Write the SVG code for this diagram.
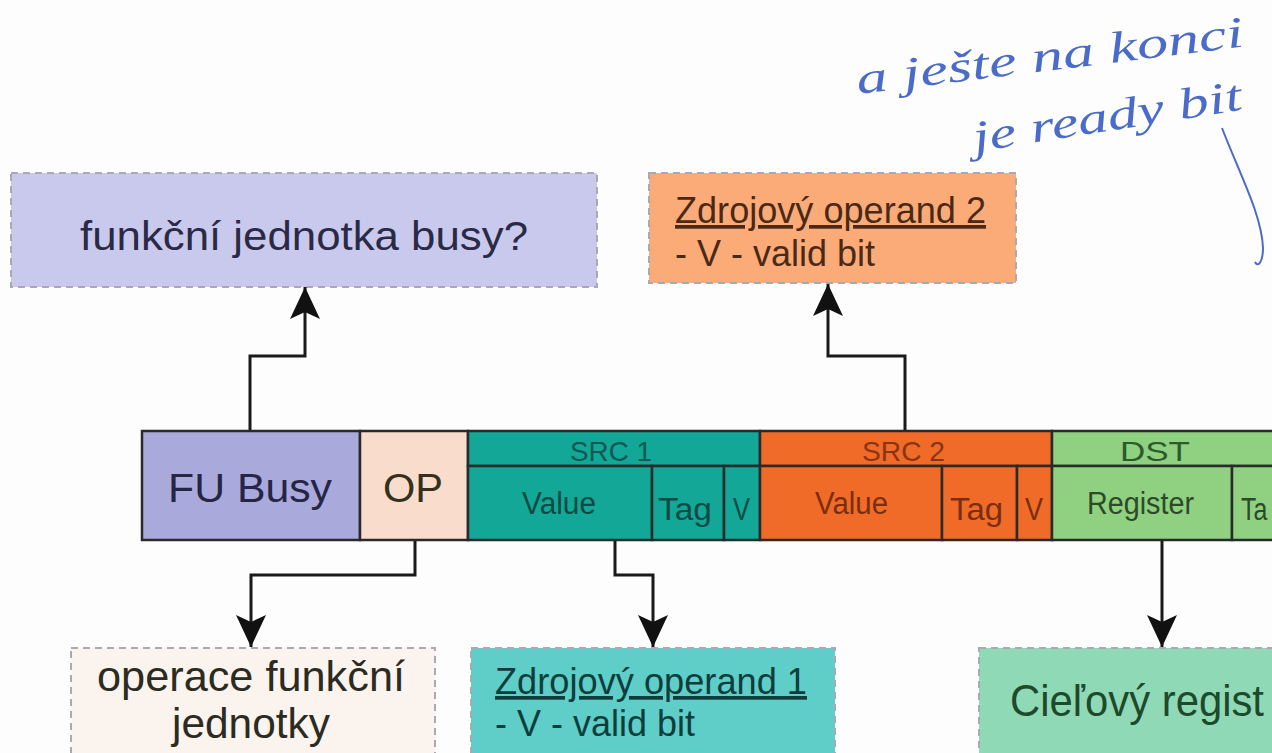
<svg xmlns="http://www.w3.org/2000/svg" width="1272" height="753" viewBox="0 0 1272 753">
  <defs>
    <!-- filled arrowhead with a shallow notch, pointing along +x -->
    <marker id="arrow" viewBox="0 0 32 30" refX="32" refY="15" markerWidth="32" markerHeight="30" markerUnits="userSpaceOnUse" orient="auto">
      <path d="M0 0 L32 15 L0 30 L7 15 Z" fill="#111"/>
    </marker>
    <style>
      text { font-family: "Liberation Sans", Arial, sans-serif; }
      .note { stroke: #a9a9b4; stroke-width: 2; stroke-dasharray: 7 5; }
      .cell { stroke: #2a2a2a; stroke-width: 2.5; }
      .conn { fill: none; stroke: #1a1a1a; stroke-width: 3; }
      .hand { font-family: "Liberation Serif", serif; font-style: italic; fill: #4a6cc8; font-size: 44px; }
    </style>
  </defs>

  <rect width="1272" height="753" fill="#fdfdfd"/>

  <!-- upper notes -->
  <g id="note-fu-busy">
    <rect class="note" x="11" y="173" width="586" height="114" fill="#c9c9ee"/>
    <text x="80" y="250" font-size="40" textLength="448" lengthAdjust="spacingAndGlyphs" fill="#2a2a46">funkční jednotka busy?</text>
  </g>
  <g id="note-src2">
    <rect class="note" x="649" y="173" width="367" height="110" fill="#fbab78"/>
    <text x="675" y="223" font-size="37" textLength="311" lengthAdjust="spacingAndGlyphs" fill="#4a2a16" text-decoration="underline">Zdrojový operand 2</text>
    <text x="675" y="266" font-size="37" textLength="200" lengthAdjust="spacingAndGlyphs" fill="#4a2a16">- V - valid bit</text>
  </g>

  <!-- handwritten annotation -->
  <g id="annotation">
    <text class="hand" x="858" y="94" textLength="390" lengthAdjust="spacingAndGlyphs" transform="rotate(-7 858 94)">a ješte na konci</text>
    <text class="hand" x="975" y="152" textLength="272" lengthAdjust="spacingAndGlyphs" transform="rotate(-9 975 152)">je ready bit</text>
    <path d="M1222 128 C1238 170 1262 215 1263 248 C1263 262 1258 268 1255 262" fill="none" stroke="#4a6cc8" stroke-width="2"/>
  </g>

  <!-- reservation station entry -->
  <g id="entry">
    <g id="fu-busy">
      <rect class="cell" x="142" y="431" width="218" height="109" fill="#a9a9dc"/>
      <text x="168" y="502" font-size="41" textLength="164" lengthAdjust="spacingAndGlyphs" fill="#252545">FU Busy</text>
    </g>
    <g id="op">
      <rect class="cell" x="360" y="431" width="108" height="109" fill="#f9dccb"/>
      <text x="383" y="502" font-size="41" textLength="60" lengthAdjust="spacingAndGlyphs" fill="#33301e">OP</text>
    </g>
    <g id="src1">
      <rect class="cell" x="468" y="431" width="292" height="35" fill="#12a797"/>
      <text x="570" y="461" font-size="28" textLength="82" lengthAdjust="spacingAndGlyphs" fill="#0e5a52">SRC 1</text>
      <rect class="cell" x="468" y="466" width="184" height="74" fill="#12a797"/>
      <text x="522" y="514" font-size="31" textLength="74" lengthAdjust="spacingAndGlyphs" fill="#0e4a44">Value</text>
      <rect class="cell" x="652" y="466" width="72" height="74" fill="#12a797"/>
      <text x="658" y="520" font-size="31" textLength="54" lengthAdjust="spacingAndGlyphs" fill="#0e4a44">Tag</text>
      <rect class="cell" x="724" y="466" width="36" height="74" fill="#12a797"/>
      <text x="733" y="520" font-size="31" textLength="17" lengthAdjust="spacingAndGlyphs" fill="#0e4a44">V</text>
    </g>
    <g id="src2">
      <rect class="cell" x="760" y="431" width="292" height="35" fill="#f06b28"/>
      <text x="862" y="461" font-size="28" textLength="83" lengthAdjust="spacingAndGlyphs" fill="#8a3510">SRC 2</text>
      <rect class="cell" x="760" y="466" width="182" height="74" fill="#f06b28"/>
      <text x="815" y="514" font-size="31" textLength="73" lengthAdjust="spacingAndGlyphs" fill="#7a2e0e">Value</text>
      <rect class="cell" x="942" y="466" width="75" height="74" fill="#f06b28"/>
      <text x="950" y="520" font-size="31" textLength="53" lengthAdjust="spacingAndGlyphs" fill="#7a2e0e">Tag</text>
      <rect class="cell" x="1017" y="466" width="35" height="74" fill="#f06b28"/>
      <text x="1025" y="520" font-size="31" textLength="18" lengthAdjust="spacingAndGlyphs" fill="#7a2e0e">V</text>
    </g>
    <g id="dst">
      <rect class="cell" x="1052" y="431" width="222" height="35" fill="#8fd081"/>
      <text x="1120" y="461" font-size="28" textLength="70" lengthAdjust="spacingAndGlyphs" fill="#2d5a2a">DST</text>
      <rect class="cell" x="1052" y="466" width="180" height="74" fill="#8fd081"/>
      <text x="1087" y="514" font-size="31" textLength="107" lengthAdjust="spacingAndGlyphs" fill="#2d4a28">Register</text>
      <rect class="cell" x="1232" y="466" width="42" height="74" fill="#8fd081"/>
      <text transform="translate(1241 520) scale(1 1.25)" font-size="25" fill="#2d4a28">Ta</text>
    </g>
  </g>

  <!-- lower notes -->
  <g id="note-op">
    <rect class="note" x="71" y="648" width="364" height="115" fill="#fbf4ee"/>
    <text x="97" y="691" font-size="42" textLength="308" lengthAdjust="spacingAndGlyphs" fill="#2b2b22">operace funkční</text>
    <text x="172" y="738" font-size="42" textLength="158" lengthAdjust="spacingAndGlyphs" fill="#2b2b22">jednotky</text>
  </g>
  <g id="note-src1">
    <rect class="note" x="471" y="648" width="364" height="115" fill="#5fcdc8"/>
    <text x="495" y="694" font-size="37" textLength="312" lengthAdjust="spacingAndGlyphs" fill="#0e3e3c" text-decoration="underline">Zdrojový operand 1</text>
    <text x="495" y="736" font-size="37" textLength="200" lengthAdjust="spacingAndGlyphs" fill="#0e3e3c">- V - valid bit</text>
  </g>
  <g id="note-dst">
    <rect class="note" x="979" y="648" width="295" height="115" fill="#90d9b7"/>
    <text transform="translate(1010 716) scale(1 1.1)" font-size="40" textLength="254" lengthAdjust="spacingAndGlyphs" fill="#1d4a2a">Cieľový regist</text>
  </g>

  <!-- connectors -->
  <g id="connectors">
    <path class="conn" d="M250 430 V356 H305 V287" marker-end="url(#arrow)"/>
    <path class="conn" d="M905 430 V356 H828 V284" marker-end="url(#arrow)"/>
    <path class="conn" d="M415 541 V575 H251 V647" marker-end="url(#arrow)"/>
    <path class="conn" d="M615 541 V575 H653 V647" marker-end="url(#arrow)"/>
    <path class="conn" d="M1162 541 V647" marker-end="url(#arrow)"/>
  </g>
</svg>
